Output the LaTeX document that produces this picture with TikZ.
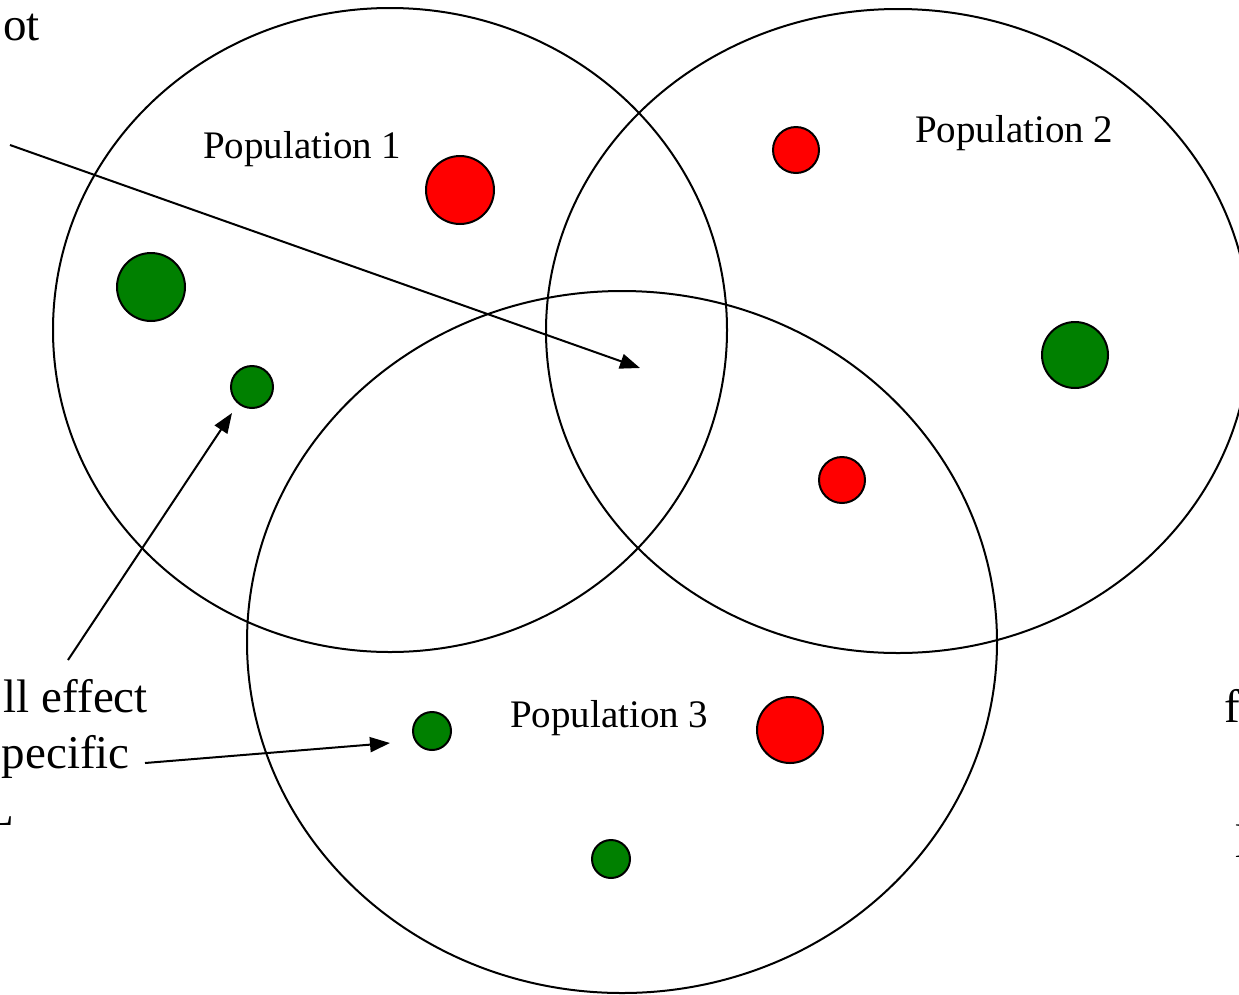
\documentclass[tikz,border=0pt]{standalone}
\usepackage{fontspec}
\setmainfont{Liberation Serif}
\usetikzlibrary{arrows.meta}
\definecolor{dotred}{RGB}{255,0,0}
\definecolor{dotgreen}{RGB}{0,128,0}
\tikzset{
  popring/.style={draw=black, line width=2pt},
  reddot/.style={circle, draw=black, line width=2pt, fill=dotred, inner sep=0pt, minimum size=#1},
  greendot/.style={circle, draw=black, line width=2pt, fill=dotgreen, inner sep=0pt, minimum size=#1},
  poplabel/.style={anchor=base west, inner sep=0pt, font=\fontsize{39}{47}\selectfont},
  sidetext/.style={inner sep=0pt, font=\fontsize{47}{56}\selectfont},
  pointer/.style={draw=black, line width=2pt, -{Triangle[length=20pt,width=15pt]}}
}
\begin{document}
\begin{tikzpicture}[x=1pt, y=-1pt]
\useasboundingbox (0,0) rectangle (1239,994);
\clip (0,0) rectangle (1239,994);

% three overlapping populations
\draw[popring] (390,330) ellipse [x radius=337, y radius=322];
\draw[popring] (898,331) ellipse [x radius=352, y radius=322];
\draw[popring] (622,642) ellipse [x radius=375, y radius=351];

% population labels
\node[poplabel] (pop1) at (203,158) {Population 1};
\node[poplabel] (pop2) at (915,142) {Population 2};
\node[poplabel] (pop3) at (510,727) {Population 3};

% QTL dots
\node[reddot=68pt]   (r1) at (460,190) {};
\node[greendot=68pt] (g1) at (151,287) {};
\node[greendot=42pt] (g2) at (252,387) {};
\node[reddot=46pt]   (r2) at (796,150) {};
\node[greendot=66pt] (g3) at (1075,355) {};
\node[reddot=46pt]   (r3) at (842,480) {};
\node[greendot=38pt] (g4) at (432,731) {};
\node[reddot=66pt]   (r4) at (790,730) {};
\node[greendot=38pt] (g5) at (611,859) {};

% side annotations
\node[sidetext, anchor=base east] (t1) at (40,40) {ot};
\node[sidetext, anchor=base east] (t2) at (148,712) {ll effect};
\node[sidetext, anchor=base east] (t3) at (130,768) {pecific};
\node[sidetext, anchor=base east] (t4) at (14,825) {L};
\node[sidetext, anchor=base west] (t5) at (1224,722) {f};
\node[sidetext, anchor=base west] (t6) at (1235,857) {l};

% pointers
\coordinate (s1) at (10,145);
\coordinate (e1) at (640,368);
\coordinate (s2) at (68,660);
\coordinate (e2) at (232,413);
\coordinate (s3) at (145,763);
\coordinate (e3) at (390,743);
\draw[pointer] (s1) -- (e1);
\draw[pointer] (s2) -- (e2);
\draw[pointer] (s3) -- (e3);
\end{tikzpicture}
\end{document}
